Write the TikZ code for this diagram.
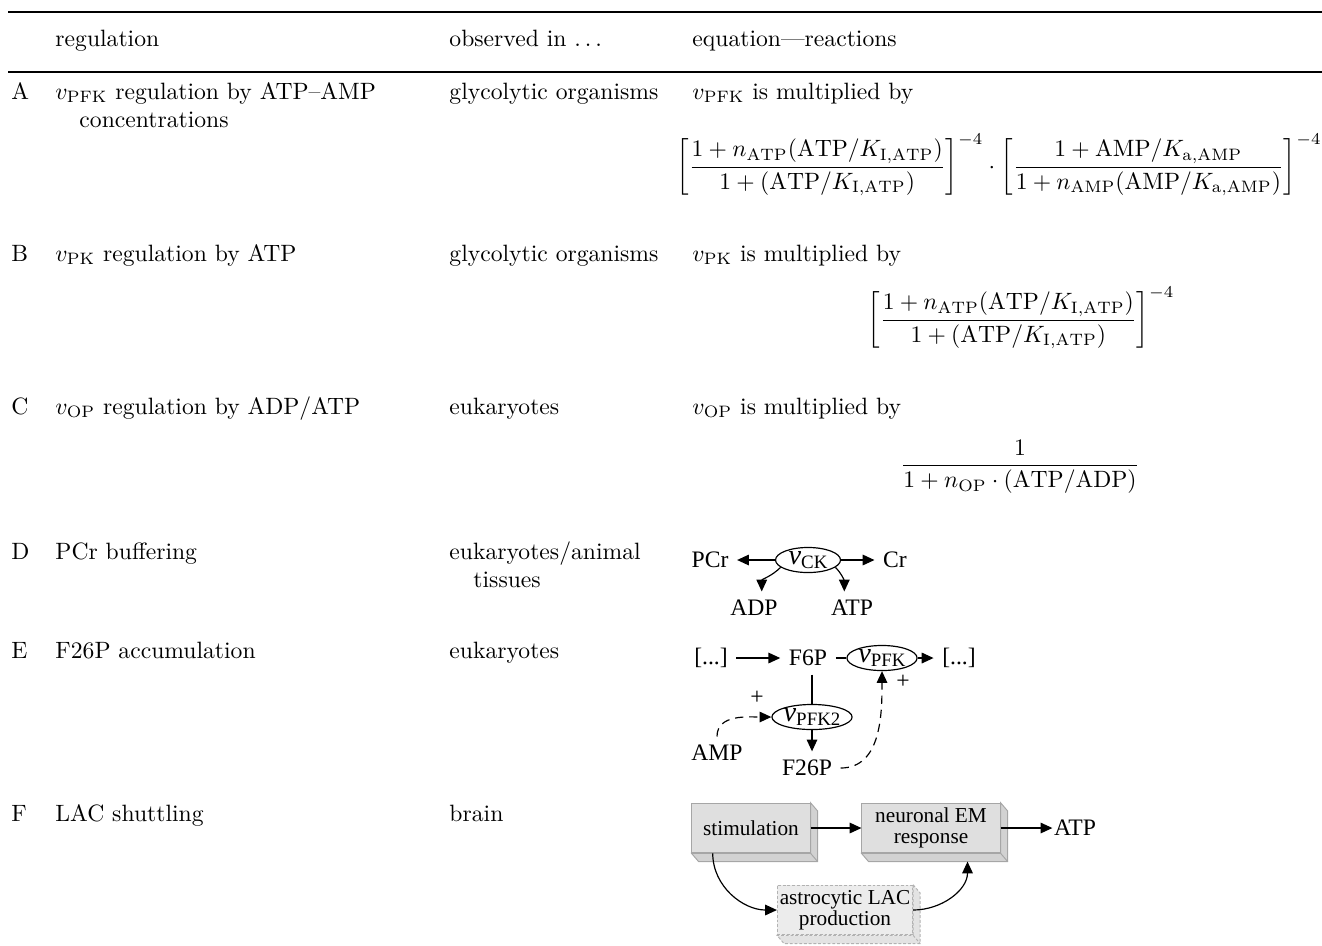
\documentclass[tikz,border=0pt]{standalone}
\usepackage{fontspec}
\newfontfamily\figfont{Liberation Serif}
\usetikzlibrary{arrows.meta,shapes.geometric}
\newcommand\velo[1]{{\fontsize{12}{12}\selectfont\textit{v}}\raisebox{-2pt}{\footnotesize #1}}

\begin{document}
\begin{tikzpicture}[x=0.4233pt,y=-0.4233pt,
>={Triangle[length=5pt,width=4.5pt]},
cell/.style={%
anchor=base west,
inner sep=0pt
},
frm/.style={%
inner sep=0pt
},
met/.style={%
font=\figfont,
inner sep=3.5pt
},
enz/.style={%
draw,
ellipse,
font=\figfont,
inner sep=0pt,
text height=5.5pt,
text depth=2pt,
line width=0.5pt
},
blk/.style={%
draw=gray!70,
fill=gray!25,
font=\figfont\small,
align=center,
minimum height=21pt,
inner sep=1pt
},
astro/.style={%
blk,
dash pattern=on 1.2pt off 0.8pt,
draw=gray!60,
fill=gray!15
},
side/.style={draw=gray!70,fill=gray!35},
aside/.style={draw=gray!60,fill=gray!22,dash pattern=on 1.2pt off 0.8pt},
con/.style={->,line width=0.5pt},
reg/.style={->,line width=0.5pt,dash pattern=on 3.5pt off 2.5pt},
]
\useasboundingbox (0,0) rectangle (1322,945);
%% rules
\draw[line width=0.8pt] (8,12) -- (1322,12);
\draw[line width=0.6pt] (8,72) -- (1322,72);
%% header
\node[cell] (h1) at (55,46) {regulation};
\node[cell] (h2) at (449,46) {observed in $\ldots$};
\node[cell] (h3) at (692,46) {equation---reactions};
%% A
\node[cell] (la) at (11,99) {A};
\node[cell] (ra) at (55,99) {$v_{\mathrm{PFK}}$ regulation by ATP--AMP};
\node[cell] (ra2) at (79,127) {concentrations};
\node[cell] (oa) at (449,99) {glycolytic organisms};
\node[cell] (ea) at (692,99) {$v_{\mathrm{PFK}}$ is multiplied by};
\node[frm] (fa) at (999,165) {$\displaystyle
\left[\frac{1+n_{\mathrm{ATP}}(\mathrm{ATP}/K_{\mathrm{I{,}ATP}})}{1+(\mathrm{ATP}/K_{\mathrm{I{,}ATP}})}\right]^{-4}
\cdot
\left[\frac{1+\mathrm{AMP}/K_{\mathrm{a{,}AMP}}}{1+n_{\mathrm{AMP}}(\mathrm{AMP}/K_{\mathrm{a{,}AMP}})}\right]^{-4}$};
%% B
\node[cell] (lb) at (11,261) {B};
\node[cell] (rb) at (55,261) {$v_{\mathrm{PK}}$ regulation by ATP};
\node[cell] (ob) at (449,261) {glycolytic organisms};
\node[cell] (eb) at (692,261) {$v_{\mathrm{PK}}$ is multiplied by};
\node[frm] (fb) at (1021,318) {$\displaystyle
\left[\frac{1+n_{\mathrm{ATP}}(\mathrm{ATP}/K_{\mathrm{I{,}ATP}})}{1+(\mathrm{ATP}/K_{\mathrm{I{,}ATP}})}\right]^{-4}$};
%% C
\node[cell] (lc) at (11,414) {C};
\node[cell] (rc) at (55,414) {$v_{\mathrm{OP}}$ regulation by ADP/ATP};
\node[cell] (oc) at (449,414) {eukaryotes};
\node[cell] (ec) at (692,414) {$v_{\mathrm{OP}}$ is multiplied by};
\node[frm] (fc) at (1020,467) {$\displaystyle
\frac{1}{1+n_{\mathrm{OP}}\cdot(\mathrm{ATP}/\mathrm{ADP})}$};
%% D
\node[cell] (ld) at (11,559) {D};
\node[cell] (rd) at (55,559) {PCr buffering};
\node[cell] (od) at (449,559) {eukaryotes/animal};
\node[cell] (od2) at (473,587) {tissues};
\node[met] (pcr) at (710,560) {PCr};
\node[enz,minimum width=27.5pt,minimum height=10.2pt] (ck) at (808,560) {\velo{CK}};
\node[met] (cr) at (895,560) {Cr};
\node[met] (adp) at (754,608) {ADP};
\node[met] (atp) at (852,608) {ATP};
\draw[con] (ck) -- (pcr);
\draw[con] (ck) -- (cr);
\draw[con] (ck.195) to[out=225,in=90] (adp.65);
\draw[con] (ck.-15) to[out=-45,in=90] (atp.115);
%% E
\node[cell] (le) at (11,658) {E};
\node[cell] (re) at (55,658) {F26P accumulation};
\node[cell] (oe) at (449,658) {eukaryotes};
\node[met] (lbr) at (711,658) {[...]};
\node[met] (f6p) at (808,658) {F6P};
\node[enz,minimum width=29.7pt,minimum height=9.7pt] (pfk) at (882,658) {\velo{PFK}};
\node[met] (rbr) at (959,658) {[...]};
\node[enz,minimum width=32.6pt,minimum height=10.6pt] (pfkb) at (812,717) {\velo{PFK2}};
\node[met] (amp) at (717,753) {AMP};
\node[met] (f26p) at (807,768) {F26P};
\node[met,inner sep=0pt] (pl1) at (757,698) {+};
\node[met,inner sep=0pt] (pl2) at (903,682) {+};
\draw[con] (lbr) -- (f6p);
\draw[line width=0.5pt] (f6p) -- (pfk);
\draw[con] (pfk) -- (rbr);
\draw[line width=0.5pt] (pfkb.north |- f6p.south) -- (pfkb.north);
\draw[con] (pfkb.south) -- (pfkb.south |- f26p.north);
\draw[reg] (amp.north) to[out=90,in=180] (pfkb.west);
\draw[reg] (f26p.east) to[out=0,in=-90] (pfk.south);
%% F
\node[cell] (lf) at (11,821) {F};
\node[cell] (rf) at (55,821) {LAC shuttling};
\node[cell] (of) at (449,821) {brain};
\node[blk,minimum width=50pt] (stim) at (751,828) {stimulation};
\node[blk,minimum width=58.5pt] (neur) at (931,828) {neuronal EM\\[-2pt]response};
\node[astro,minimum width=55pt] (lac) at (845,910) {astrocytic LAC\\[-2pt]production};
\node[met,inner sep=0.5pt] (atp2) at (1075,828) {ATP};
\foreach \b/\s in {stim/side,neur/side,lac/aside}{
\path[style=\s] (\b.north east) -- ([shift={(3pt,-3.5pt)}]\b.north east)
  -- ([shift={(3pt,-3.5pt)}]\b.south east) -- ([shift={(3pt,-3.5pt)}]\b.south west)
  -- (\b.south west) -- (\b.south east) -- cycle;
\draw[style=\s] (\b.south east) -- ([shift={(3pt,-3.5pt)}]\b.south east);
}
\draw[con] (stim) -- (neur);
\draw[con] (neur) -- (atp2);
\draw[con] ([xshift=9pt]stim.south west) to[out=-90,in=180] (lac.west);
\draw[con] (lac.east) to[out=0,in=-90] ([shift={(-14pt,-3.5pt)}]neur.south east);
\end{tikzpicture}
\end{document}
